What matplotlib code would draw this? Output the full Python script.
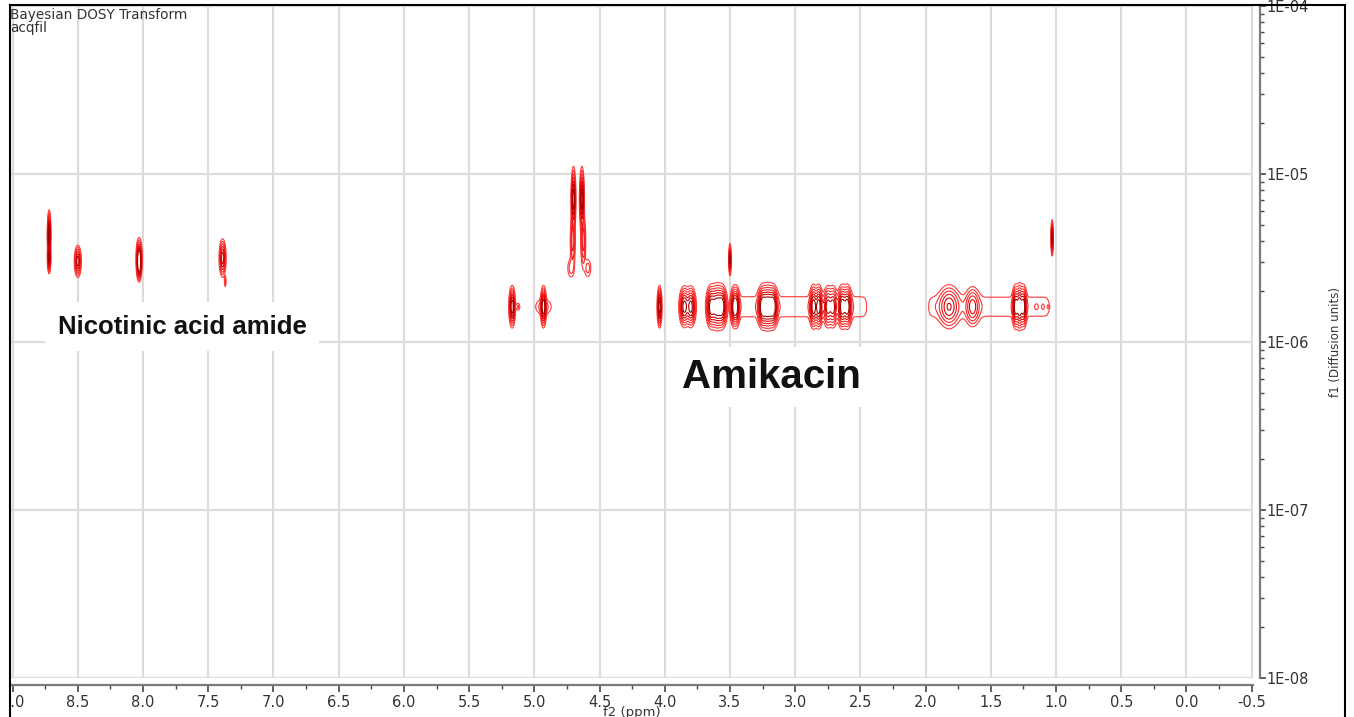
import numpy as np
import matplotlib
matplotlib.use("Agg")
import matplotlib.pyplot as plt
from matplotlib.ticker import MultipleLocator, FuncFormatter, LogLocator
from matplotlib.colors import LinearSegmentedColormap
from matplotlib.patches import Rectangle

# ---- DOSY peak table: chemical shift (ppm), log10 diffusion, widths, amplitude ----
peak_ppm = [
    # nicotinic acid amide
    8.72, 8.72, 8.50, 8.03, 8.03, 7.39, 7.37,
    # residual water / HDO
    4.70, 4.705, 4.72, 4.635, 4.625, 4.59,
    # amikacin
    5.17, 5.125, 4.93, 4.93, 4.04,
    3.85, 3.80, 3.645, 3.60, 3.56, 3.47, 3.45,
    3.25, 3.21, 3.17, 2.86, 2.82, 2.75, 2.71, 2.64, 2.60,
    1.82, 1.64, 1.31, 1.28, 1.25, 1.15, 1.10, 1.06,
    # isolated narrow signals
    3.50, 1.03,
]
peak_logd = [
    -5.36, -5.50, -5.52, -5.50, -5.54, -5.50, -5.64,
    -5.15, -5.40, -5.56, -5.15, -5.40, -5.56,
    -5.79, -5.79, -5.79, -5.79, -5.79,
    -5.79, -5.79, -5.79, -5.79, -5.79, -5.79, -5.79,
    -5.79, -5.79, -5.79, -5.79, -5.79, -5.79, -5.79, -5.79, -5.79,
    -5.79, -5.79, -5.79, -5.79, -5.79, -5.79, -5.79, -5.79,
    -5.51, -5.38,
]
peak_wppm = [
    0.006, 0.006, 0.012, 0.010, 0.008, 0.012, 0.004,
    0.008, 0.010, 0.016, 0.008, 0.010, 0.016,
    0.011, 0.010, 0.010, 0.040, 0.008,
    0.018, 0.018, 0.018, 0.022, 0.018, 0.012, 0.012,
    0.018, 0.020, 0.018, 0.014, 0.014, 0.016, 0.016, 0.016, 0.016,
    0.040, 0.028, 0.012, 0.012, 0.012, 0.008, 0.006, 0.006,
    0.004, 0.004,
]
peak_wlogd = [
    0.060, 0.040, 0.042, 0.050, 0.040, 0.050, 0.020,
    0.080, 0.080, 0.035, 0.080, 0.080, 0.035,
    0.052, 0.015, 0.052, 0.030, 0.052,
    0.052, 0.052, 0.055, 0.058, 0.055, 0.052, 0.052,
    0.055, 0.058, 0.055, 0.055, 0.055, 0.055, 0.055, 0.055, 0.055,
    0.060, 0.055, 0.055, 0.058, 0.055, 0.010, 0.010, 0.010,
    0.040, 0.045,
]
peak_amp = [
    1.0, 0.8, 0.7, 1.0, 1.0, 0.7, 0.15,
    1.0, 0.35, 0.14, 1.0, 0.35, 0.14,
    1.0, 0.12, 1.0, 0.15, 1.0,
    0.9, 0.9, 0.9, 1.0, 0.9, 0.8, 0.8,
    1.0, 1.0, 1.0, 0.9, 0.9, 0.6, 0.6, 0.9, 0.9,
    0.5, 0.45, 0.9, 1.0, 0.9, 0.08, 0.07, 0.07,
    0.9, 0.9,
]
# broad low ridges joining the amikacin multiplets: (start ppm, end ppm, log D, amplitude)
ridge_start = [3.50, 1.98]
ridge_end = [2.45, 1.05]
ridge_logd = [-5.79, -5.79]
ridge_amp = [0.09, 0.085]

contour_levels = [0.05, 0.1, 0.17, 0.27, 0.4, 0.55, 0.75]

x_ticks = np.arange(-0.5, 9.01, 0.5)
y_decades = [1e-8, 1e-7, 1e-6, 1e-5, 1e-4]

# ---- build the 2D DOSY map ----
ppm = np.arange(-0.6, 9.1, 0.002)
logd = np.arange(-6.3, -4.8, 0.003)
P, L = np.meshgrid(ppm, logd)
Z = np.zeros_like(P)
for x0, y0, sx, sy, a in zip(peak_ppm, peak_logd, peak_wppm, peak_wlogd, peak_amp):
    Z += a * np.exp(-0.5 * ((P - x0) / sx) ** 2 - 0.5 * ((L - y0) / sy) ** 2)
for x1, x2, y0, a in zip(ridge_start, ridge_end, ridge_logd, ridge_amp):
    lo, hi = min(x1, x2), max(x1, x2)
    edge = 1 / (1 + np.exp(-(P - lo) / 0.01)) * 1 / (1 + np.exp((P - hi) / 0.01))
    Z += a * edge * np.exp(-0.5 * ((L - y0) / 0.055) ** 2)

fig = plt.figure(figsize=(13.54, 7.17), dpi=100)
W, H = 1354, 717
ax = fig.add_axes([10 / W, 1 - 678 / H, (1253 - 10) / W, (678 - 6) / H])

cmap = LinearSegmentedColormap.from_list("dosy", ["#ff3a3a", "#e00000", "#a00000"])
ax.contour(P, 10 ** L, Z, levels=contour_levels, cmap=cmap, linewidths=0.8, zorder=3)

ax.set_yscale("log")
ax.set_xlim(9.02, -0.51)
ax.set_ylim(1e-8, 1e-4)

# grid
for xv in x_ticks:
    ax.axvline(xv, color="#dcdcdc", lw=1.6, zorder=1)
for yv in y_decades:
    ax.axhline(yv, color="#dcdcdc", lw=1.6, zorder=1)

for s in ("top", "left"):
    ax.spines[s].set_visible(False)
for s in ("right", "bottom"):
    ax.spines[s].set_position(("outward", 5))
    ax.spines[s].set_color("#7a7a7a")
    ax.spines[s].set_linewidth(1.6)

ax.xaxis.set_major_locator(MultipleLocator(0.5))
ax.xaxis.set_minor_locator(MultipleLocator(0.25))
ax.xaxis.set_major_formatter(FuncFormatter(lambda v, p: f"{v:.1f}"))
ax.yaxis.tick_right()
ax.yaxis.set_label_position("right")
ax.yaxis.set_major_locator(LogLocator(base=10, numticks=10))
ax.yaxis.set_minor_locator(LogLocator(base=10, subs=np.arange(2, 10), numticks=20))
ax.yaxis.set_major_formatter(FuncFormatter(lambda v, p: f"{v:.0E}"))
ax.tick_params(axis="x", which="major", direction="out", length=5, width=1.2,
               color="#444444", labelsize=10.5, labelcolor="#333333", pad=2)
ax.tick_params(axis="y", which="major", direction="out", length=4, width=1.2,
               color="#444444", labelsize=10.5, labelcolor="#333333", pad=1)
ax.tick_params(axis="both", which="minor", direction="out", length=3, width=1.0,
               color="#444444")

ax.set_xlabel("f2 (ppm)", fontsize=9.5, color="#333333", labelpad=-2.5)
ax.set_ylabel("f1 (Diffusion units)", fontsize=8.5, color="#333333", labelpad=14)

# compound labels
ax.text(7.70, 1.23e-6, "Nicotinic acid amide", family="Liberation Sans", weight="bold",
        fontsize=18.5, ha="center", va="center", color="#111111", zorder=4,
        bbox=dict(facecolor="white", edgecolor="none", pad=9))
ax.text(3.18, 6.2e-7, "Amikacin", family="Liberation Sans", weight="bold",
        fontsize=29, ha="center", va="center", color="#111111", zorder=4,
        bbox=dict(facecolor="white", edgecolor="none", pad=8))

fig.text(10 / W, 1 - 8 / H, "Bayesian DOSY Transform\nacqfil", fontsize=9.8,
         ha="left", va="top", color="#333333", linespacing=0.95)

# page frame
fig.patches.append(Rectangle((0, 0), 9 / W, 1, transform=fig.transFigure,
                             facecolor="white", edgecolor="none", zorder=5))
fig.add_artist(plt.Line2D([9.5 / W, 9.5 / W], [0, 1 - 5 / H], color="black", lw=1.5,
                          transform=fig.transFigure, zorder=6))
fig.add_artist(plt.Line2D([1345 / W, 1345 / W], [0, 1 - 5 / H], color="black", lw=1.5,
                          transform=fig.transFigure, zorder=6))
fig.add_artist(plt.Line2D([9.5 / W, 1345 / W], [1 - 5 / H, 1 - 5 / H], color="black", lw=1.5,
                          transform=fig.transFigure, zorder=6))

fig.savefig("out.png", dpi=100)
